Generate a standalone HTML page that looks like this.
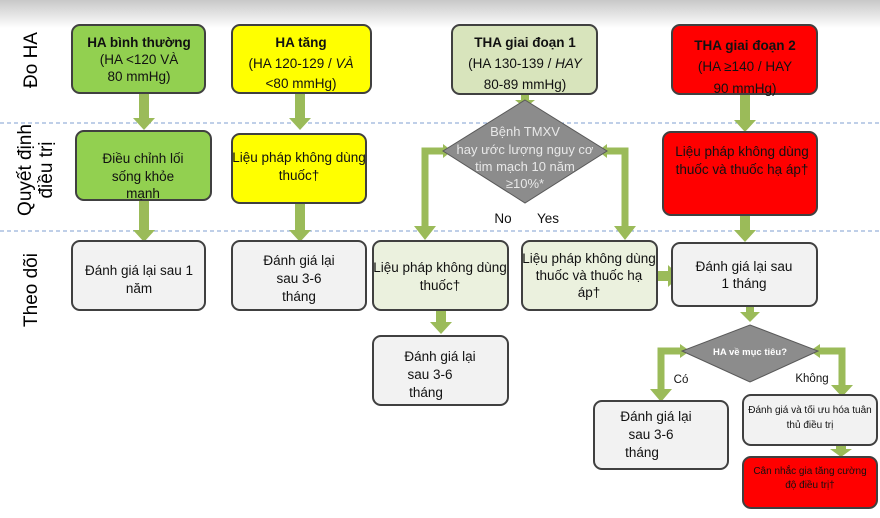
<!DOCTYPE html>
<html><head><meta charset="utf-8"><style>
html,body{margin:0;padding:0;background:#fff;}
svg{display:block;font-family:"Liberation Sans",sans-serif;}
</style></head><body>
<svg width="880" height="518" viewBox="0 0 880 518" xmlns="http://www.w3.org/2000/svg">
<defs>
<linearGradient id="tg" x1="0" y1="0" x2="0" y2="1">
<stop offset="0" stop-color="#c8c8c8"/><stop offset="1" stop-color="#ffffff"/>
</linearGradient>
</defs>
<rect x="0" y="0" width="880" height="28" fill="url(#tg)"/>
<line x1="0" y1="123" x2="880" y2="123" stroke="#7f9fd0" stroke-dasharray="4,3" stroke-width="1"/>
<line x1="0" y1="231" x2="880" y2="231" stroke="#7f9fd0" stroke-dasharray="4,3" stroke-width="1"/>

<g font-size="19" fill="#000">
<text transform="translate(37,60) rotate(-90)" text-anchor="middle">Đo HA</text>
<text transform="translate(31,170) rotate(-90)" text-anchor="middle">Quyết định</text>
<text transform="translate(52,170) rotate(-90)" text-anchor="middle">điều trị</text>
<text transform="translate(37,290) rotate(-90)" text-anchor="middle">Theo dõi</text>
</g>

<g fill="#9bbb59">
<polygon points="139,93 149,93 149,118 155,118 144,130 133,118 139,118"/>
<polygon points="295,93 305,93 305,118 311,118 300,130 289,118 295,118"/>
<polygon points="521,94 529,94 529,100 535,100 525,108 515,100 521,100"/>
<polygon points="740,94 750,94 750,120 756,120 745,132 734,120 740,120"/>
<polygon points="139,200 149,200 149,230 155,230 144,242 133,230 139,230"/>
<polygon points="295,203 305,203 305,230 311,230 300,242 289,230 295,230"/>
<polygon points="740,215 750,215 750,230 756,230 745,242 734,230 740,230"/>
<polygon points="436,310 446,310 446,322 452,322 441,334 430,322 436,322"/>
<polygon points="657,271 668,271 668,265 680,276 668,287 668,281 657,281"/>
<polygon points="746,306 754,306 754,312 760,312 750,322 740,312 746,312"/>
<polygon points="836,445 846,445 846,449 852,449 841,457 830,449 836,449"/>
</g>
<g fill="none" stroke="#9bbb59" stroke-width="7">
<polyline points="445,151 425,151 425,228"/>
<polyline points="605,151 625,151 625,228"/>
<polyline points="682,351 661,351 661,392"/>
<polyline points="818,351 842,351 842,388"/>
</g>
<g fill="#9bbb59">
<polygon points="414,226 436,226 425,240"/>
<polygon points="614,226 636,226 625,240"/>
<polygon points="650,389 672,389 661,402"/>
<polygon points="831,385 853,385 842,397"/>
<polygon points="443,144 443,158 452,151"/>
<polygon points="607,144 607,158 598,151"/>
<polygon points="680,344 680,358 690,351"/>
<polygon points="820,344 820,358 810,351"/>
</g>

<g stroke="#404040" stroke-width="2">
<rect x="72" y="25" width="133" height="68" rx="8" fill="#92d050"/>
<rect x="232" y="25" width="139" height="68" rx="8" fill="#ffff00"/>
<rect x="452" y="25" width="145" height="69" rx="8" fill="#d8e4bc"/>
<rect x="672" y="25" width="145" height="69" rx="8" fill="#ff0000"/>
<rect x="76" y="131" width="135" height="69" rx="8" fill="#92d050"/>
<rect x="232" y="134" width="134" height="69" rx="8" fill="#ffff00"/>
<rect x="663" y="132" width="154" height="83" rx="8" fill="#ff0000"/>
<rect x="72" y="241" width="133" height="69" rx="8" fill="#f2f2f2"/>
<rect x="232" y="241" width="134" height="69" rx="8" fill="#f2f2f2"/>
<rect x="373" y="241" width="135" height="69" rx="8" fill="#ebf1de"/>
<rect x="522" y="241" width="135" height="69" rx="8" fill="#ebf1de"/>
<rect x="672" y="243" width="145" height="63" rx="8" fill="#f2f2f2"/>
<rect x="373" y="336" width="135" height="69" rx="8" fill="#f2f2f2"/>
<rect x="594" y="401" width="134" height="68" rx="8" fill="#f2f2f2"/>
<rect x="743" y="395" width="134" height="50" rx="8" fill="#f2f2f2"/>
<rect x="743" y="457" width="134" height="51" rx="8" fill="#ff0000"/>
<polygon points="525,100 607,151 525,203 443,151" fill="#8c8c8c" stroke="#595959" stroke-width="1"/>
<polygon points="750,325 818,351 750,382 682,351" fill="#8c8c8c" stroke="#595959" stroke-width="1"/>
</g>

<g font-size="13.5" fill="#111" text-anchor="middle">
<text x="139" y="47" font-weight="bold">HA bình thường</text>
<text x="139" y="64">(HA &lt;120 VÀ</text>
<text x="139" y="81">80 mmHg)</text>
<text x="301" y="47" font-weight="bold">HA tăng</text>
<text x="301" y="68">(HA 120-129 / <tspan font-style="italic">VÀ</tspan></text>
<text x="301" y="88">&lt;80 mmHg)</text>
<text x="525" y="47" font-weight="bold">THA giai đoạn 1</text>
<text x="525" y="68">(HA 130-139 / <tspan font-style="italic">HAY</tspan></text>
<text x="525" y="89">80-89 mmHg)</text>
<text x="745" y="50" font-weight="bold">THA giai đoạn 2</text>
<text x="745" y="71">(HA ≥140 / HAY</text>
<text x="745" y="93">90 mmHg)</text>
<text x="143" y="163">Điều chỉnh lối</text>
<text x="143" y="181">sống khỏe</text>
<text x="143" y="198">mạnh</text>
<text x="299" y="162">Liệu pháp không dùng</text>
<text x="299" y="180">thuốc†</text>
<text x="742" y="156">Liệu pháp không dùng</text>
<text x="742" y="174">thuốc và thuốc hạ áp†</text>
<text x="139" y="275">Đánh giá lại sau 1</text>
<text x="139" y="293">năm</text>
<text x="299" y="265">Đánh giá lại</text>
<text x="299" y="283">sau 3-6</text>
<text x="299" y="301">tháng</text>
<text x="440" y="272">Liệu pháp không dùng</text>
<text x="440" y="290">thuốc†</text>
<text x="589" y="263">Liệu pháp không dùng</text>
<text x="589" y="280">thuốc và thuốc hạ</text>
<text x="589" y="297">áp†</text>
<text x="744" y="271">Đánh giá lại sau</text>
<text x="744" y="288">1 tháng</text>
<text x="440" y="361">Đánh giá lại</text>
<text x="430" y="379">sau 3-6</text>
<text x="426" y="397">tháng</text>
<text x="656" y="421">Đánh giá lại</text>
<text x="651" y="439">sau 3-6</text>
<text x="642" y="457">tháng</text>
<text x="503" y="223">No</text>
<text x="548" y="223">Yes</text>
<text x="681" y="383" font-size="11.5">Có</text>
<text x="812" y="382" font-size="11.5">Không</text>
</g>
<g font-size="13" fill="#e8e8e8" text-anchor="middle">
<text x="525" y="136">Bệnh TMXV</text>
<text x="525" y="154">hay ước lượng nguy cơ</text>
<text x="525" y="171">tim mạch 10 năm</text>
<text x="525" y="188">≥10%*</text>
</g>
<text x="750" y="355" font-size="9.5" font-weight="bold" fill="#fff" text-anchor="middle">HA về mục tiêu?</text>
<g font-size="10" fill="#111" text-anchor="middle">
<text x="810" y="413">Đánh giá và tối ưu hóa tuân</text>
<text x="810" y="428">thủ điều trị</text>
<text x="810" y="474">Cân nhắc gia tăng cường</text>
<text x="810" y="488">độ điều trị†</text>
</g>
</svg>
</body></html>
